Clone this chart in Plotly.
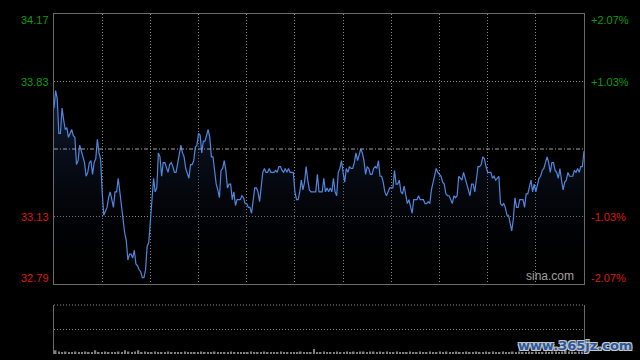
import plotly.graph_objects as go

# ---- data ----
prev_close = 33.48
amplitude = 0.693
left_labels = ["34.17", "33.83", "33.13", "32.79"]
right_labels = ["+2.07%", "+1.03%", "-1.03%", "-2.07%"]
label_levels = [1.0, 0.5, -0.5, -1.0]  # fraction of amplitude

prices = [
    33.69, 33.78, 33.74, 33.56, 33.56, 33.69, 33.63, 33.58, 33.59, 33.54,
    33.56, 33.58, 33.55, 33.54, 33.40, 33.42, 33.50, 33.47, 33.43, 33.41,
    33.34, 33.36, 33.41, 33.42, 33.35, 33.41, 33.43, 33.53, 33.46, 33.43,
    33.26, 33.14, 33.16, 33.18, 33.23, 33.26, 33.22, 33.18, 33.26, 33.26,
    33.33, 33.26, 33.17, 33.12, 33.05, 33.01, 32.91, 32.94, 32.94, 32.92,
    32.96, 32.89, 32.88, 32.86, 32.85, 32.82, 32.82, 32.86, 32.98, 33.00,
    33.12, 33.22, 33.33, 33.26, 33.28, 33.46, 33.44, 33.34, 33.41, 33.41,
    33.38, 33.36, 33.40, 33.41, 33.39, 33.36, 33.36, 33.41, 33.44, 33.50,
    33.46, 33.44, 33.38, 33.35,
    33.33, 33.40, 33.40, 33.42, 33.49, 33.50, 33.56, 33.55, 33.46, 33.52,
    33.52, 33.55, 33.58, 33.54, 33.44, 33.44, 33.37, 33.30, 33.27, 33.23,
    33.37, 33.38, 33.42, 33.37, 33.28, 33.30, 33.30, 33.22, 33.26, 33.19,
    33.22, 33.22, 33.22, 33.24, 33.23, 33.20, 33.20, 33.18, 33.18, 33.15,
    33.22, 33.28, 33.28, 33.26, 33.21, 33.29, 33.36, 33.38, 33.36, 33.36,
    33.38, 33.36, 33.36, 33.36, 33.37, 33.36, 33.39, 33.39, 33.37, 33.36,
    33.38, 33.36, 33.38, 33.36, 33.36, 33.36, 33.26, 33.22, 33.22, 33.26,
    33.32, 33.27, 33.31, 33.39, 33.32, 33.27, 33.26, 33.26, 33.26, 33.26,
    33.35, 33.26,
    33.26, 33.26, 33.33, 33.26, 33.28, 33.26, 33.28, 33.26, 33.33, 33.26,
    33.24, 33.36, 33.38, 33.42, 33.36, 33.31, 33.38, 33.36, 33.39, 33.38,
    33.38, 33.41, 33.46, 33.42, 33.45, 33.48, 33.46, 33.42, 33.35, 33.39,
    33.38, 33.35, 33.35, 33.38, 33.39, 33.38, 33.42, 33.34, 33.34, 33.31,
    33.26, 33.24, 33.26, 33.28, 33.28, 33.28, 33.37, 33.30, 33.30, 33.32,
    33.26, 33.25, 33.29, 33.24, 33.20, 33.22, 33.19, 33.15, 33.22, 33.22,
    33.22, 33.24, 33.22, 33.22, 33.22, 33.20, 33.20, 33.21, 33.20, 33.27,
    33.31, 33.34, 33.38, 33.36, 33.35, 33.34, 33.31, 33.30, 33.25, 33.24,
    33.24, 33.22, 33.20, 33.24,
    33.23, 33.24, 33.34, 33.33, 33.32, 33.36, 33.33, 33.31, 33.27, 33.24,
    33.30, 33.30, 33.26, 33.32, 33.39, 33.39, 33.40, 33.44, 33.43, 33.39,
    33.36, 33.36, 33.36, 33.33, 33.34, 33.32, 33.33, 33.34, 33.20, 33.19,
    33.20, 33.18, 33.14, 33.14, 33.10, 33.06, 33.12, 33.23, 33.18, 33.18,
    33.22, 33.22, 33.22, 33.18, 33.25, 33.25, 33.29, 33.32, 33.26, 33.30,
    33.26, 33.29, 33.33, 33.34, 33.37, 33.38, 33.41, 33.44, 33.41, 33.36,
    33.41, 33.41, 33.37, 33.36, 33.33, 33.38, 33.32, 33.27, 33.31, 33.32,
    33.36, 33.34, 33.34, 33.34, 33.37, 33.36, 33.38, 33.36, 33.39, 33.39,
    33.47,
]

volumes = [
    3, 2, 1, 2, 1, 1, 2, 1, 1, 2, 1, 1, 3, 1, 1, 2, 1, 1, 1, 2,
    1, 3, 2, 1, 2, 3, 1, 2, 1, 1, 2, 1, 1, 1, 2, 1, 1, 1, 1, 2,
    1, 1, 1, 1, 2, 1, 1, 1, 2, 1, 1, 1, 1, 2, 1, 1, 1, 1, 1, 2,
    1, 1, 1, 2, 1, 1, 1, 1, 2, 1, 1, 1, 1, 1, 2, 1, 1, 1, 4, 1,
    1, 2, 1, 1, 1, 2, 1, 1, 2, 1, 2, 1, 2, 2, 1, 2, 2, 1, 2, 1,
    2, 1, 1, 2, 1, 1, 1, 2, 1, 1, 2, 1, 1, 2, 1, 1, 2, 1, 2, 1,
    1, 2, 1, 1, 2, 1, 1, 2, 1, 1, 2, 1, 2, 1, 1, 2, 1, 1, 2, 1,
    2, 1, 1, 2, 1, 2, 1, 1, 2, 1, 2, 2, 1, 2, 3, 2, 2, 1, 2, 2,
]

N = len(prices)
xs = list(range(N))
y_lo = prev_close - amplitude
y_hi = prev_close + amplitude

GREEN = "#0c9c0c"
RED = "#dd1a0e"
GRID = "#8a8a8a"
BORDER = "#6a6a6a"
DOT = "1px,2px"

fig = go.Figure()

# baseline for the filled area
fig.add_trace(go.Scatter(x=xs, y=[y_lo] * N, mode="lines",
                         line=dict(width=0, color="rgba(0,0,0,0)"),
                         hoverinfo="skip", showlegend=False))
fig.add_trace(go.Scatter(
    x=xs, y=prices, mode="lines",
    line=dict(color="#4f86de", width=1.2),
    fill="tonexty",
    fillgradient=dict(type="vertical",
                      colorscale=[[0, "rgba(0,0,0,0)"], [1, "rgba(32,56,104,0.55)"]],
                      start=y_lo, stop=max(prices)),
    showlegend=False, hoverinfo="skip"))

fig.add_trace(go.Bar(x=list(range(len(volumes))), y=volumes,
                     marker=dict(color="#808080", line=dict(width=0)),
                     xaxis="x2", yaxis="y2", showlegend=False, hoverinfo="skip"))

xmain = [0.084375, 0.9125]
fig.update_layout(
    width=640, height=360,
    margin=dict(l=0, r=0, t=0, b=0),
    paper_bgcolor="#000000", plot_bgcolor="#000000",
    bargap=0.5,
    xaxis=dict(domain=xmain, range=[0, N - 1],
               tickvals=[(N - 1) * k / 11 for k in range(1, 11)],
               showticklabels=False, ticks="",
               showgrid=True, gridcolor=GRID, griddash=DOT, gridwidth=1,
               showline=True, linecolor=BORDER, linewidth=1, mirror=True,
               zeroline=False),
    yaxis=dict(domain=[0.2111, 0.9611], range=[y_lo, y_hi],
               tickvals=[prev_close + amplitude * 0.5, prev_close - amplitude * 0.5],
               showticklabels=False, ticks="",
               showgrid=True, gridcolor=GRID, griddash=DOT, gridwidth=1,
               showline=True, linecolor=BORDER, linewidth=1, mirror=True,
               zeroline=False),
    xaxis2=dict(domain=xmain, range=[-0.5, len(volumes) - 0.5], anchor="y2",
                showticklabels=False, ticks="", showgrid=False,
                showline=False, zeroline=False),
    yaxis2=dict(domain=[0.0167, 0.1528], range=[0, 40], anchor="x2",
                showticklabels=False, ticks="", showgrid=False,
                showline=True, linecolor=BORDER, linewidth=1, mirror=True,
                zeroline=False),
)

# previous close line
fig.add_shape(type="line", xref="x domain", yref="y", x0=0, x1=1,
              y0=prev_close, y1=prev_close,
              line=dict(color="#a0a0a0", width=1, dash="4px,2px,1px,2px"))
# volume panel grid
for frac in (1.0, 0.5):
    fig.add_shape(type="line", xref="x2 domain", yref="y2 domain", x0=0, x1=1,
                  y0=frac, y1=frac, line=dict(color=GRID, width=1, dash=DOT))

font = "Liberation Sans, Arial, sans-serif"
for lab_l, lab_r, lvl in zip(left_labels, right_labels, label_levels):
    col = GREEN if lvl > 0 else RED
    shift = -6 if lvl == 1.0 else (6 if lvl == -1.0 else 0)
    yv = prev_close + amplitude * lvl
    fig.add_annotation(text=lab_l, xref="paper", yref="y", x=0.0795, y=yv,
                       xanchor="right", yanchor="middle", yshift=shift,
                       showarrow=False, font=dict(family=font, size=11, color=col))
    fig.add_annotation(text=lab_r, xref="paper", yref="y", x=0.9205, y=yv,
                       xanchor="left", yanchor="middle", yshift=shift,
                       showarrow=False, font=dict(family=font, size=11, color=col))

fig.add_annotation(text="sina.com", xref="x domain", yref="y domain",
                   x=0.985, y=0.0, xanchor="right", yanchor="bottom", yshift=-1,
                   showarrow=False, font=dict(family=font, size=12, color="#a0a0a0"))

fig.add_annotation(text="<b>www.365jz.com</b>", xref="paper", yref="paper",
                   x=0.99, y=0.015, xanchor="right", yanchor="bottom",
                   showarrow=False,
                   font=dict(family="DejaVu Sans", size=13, color="#2a58a0",
                             shadow="1px 1px 0 #c8c8c8, -1px -1px 0 #c8c8c8, 1px -1px 0 #c8c8c8, -1px 1px 0 #c8c8c8"))

fig.write_html("out.html")
